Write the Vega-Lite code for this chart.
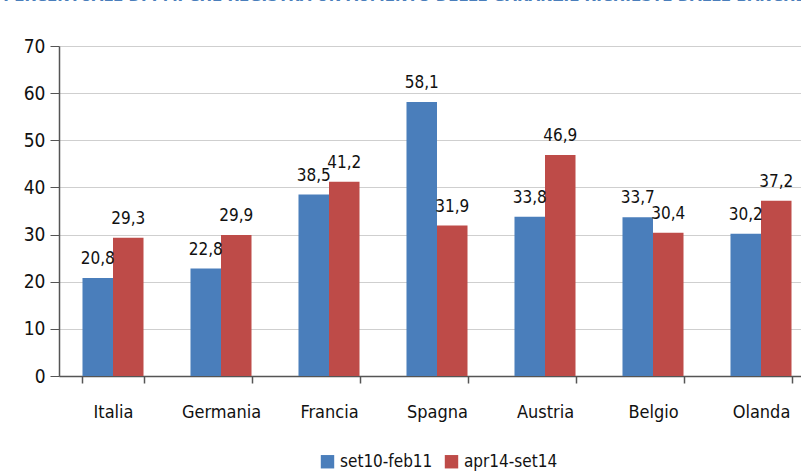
{
  "$schema": "https://vega.github.io/schema/vega-lite/v6.json",
  "width": 742,
  "height": 330,
  "autosize": "none",
  "padding": {"left": 59, "top": 46, "right": 0, "bottom": 96},
  "background": "white",
  "title": {
    "text": "PERCENTUALE DI PMI CHE REGISTRA UN AUMENTO DELLE GARANZIE RICHIESTE DALLE BANCHE",
    "anchor": "start",
    "dx": -20,
    "dy": -29,
    "fontSize": 15,
    "fontWeight": "bold",
    "color": "#4a7ebb",
    "font": "DejaVu Sans"
  },
  "config": {
    "locale": {"number": {"decimal": ",", "thousands": ".", "grouping": [3], "currency": ["", " €"]}},
    "view": {"stroke": null},
    "font": "DejaVu Sans Condensed"
  },
  "data": {
    "values": [
      {"paese": "Italia", "periodo": "set10-feb11", "valore": 20.8},
      {"paese": "Italia", "periodo": "apr14-set14", "valore": 29.3},
      {"paese": "Germania", "periodo": "set10-feb11", "valore": 22.8},
      {"paese": "Germania", "periodo": "apr14-set14", "valore": 29.9},
      {"paese": "Francia", "periodo": "set10-feb11", "valore": 38.5},
      {"paese": "Francia", "periodo": "apr14-set14", "valore": 41.2},
      {"paese": "Spagna", "periodo": "set10-feb11", "valore": 58.1},
      {"paese": "Spagna", "periodo": "apr14-set14", "valore": 31.9},
      {"paese": "Austria", "periodo": "set10-feb11", "valore": 33.8},
      {"paese": "Austria", "periodo": "apr14-set14", "valore": 46.9},
      {"paese": "Belgio", "periodo": "set10-feb11", "valore": 33.7},
      {"paese": "Belgio", "periodo": "apr14-set14", "valore": 30.4},
      {"paese": "Olanda", "periodo": "set10-feb11", "valore": 30.2},
      {"paese": "Olanda", "periodo": "apr14-set14", "valore": 37.2}
    ]
  },
  "encoding": {
    "x": {
      "field": "paese",
      "type": "nominal",
      "sort": null,
      "scale": {"range": [0, 756], "paddingInner": 0.435, "paddingOuter": 0.2175},
      "axis": {
        "title": null,
        "labelAngle": 0,
        "labelFontSize": 18,
        "labelColor": "#111",
        "labelPadding": 20,
        "tickBand": "extent",
        "tickSize": 7,
        "tickColor": "#555",
        "domainColor": "#555",
        "domainWidth": 1.5,
        "tickWidth": 1.5
      }
    },
    "xOffset": {"field": "periodo", "type": "nominal", "sort": ["set10-feb11", "apr14-set14"]},
    "y": {
      "field": "valore",
      "type": "quantitative",
      "scale": {"domain": [0, 70]},
      "axis": {
        "title": null,
        "values": [0, 10, 20, 30, 40, 50, 60, 70],
        "labelOverlap": false,
        "labelFontSize": 19,
        "labelColor": "#111",
        "labelPadding": 5,
        "tickSize": 9,
        "tickColor": "#555",
        "domainColor": "#555",
        "domainWidth": 1.5,
        "gridColor": "#cfcfcf",
        "gridWidth": 1.2
      }
    }
  },
  "layer": [
    {
      "mark": {"type": "bar"},
      "encoding": {
        "color": {
          "field": "periodo",
          "type": "nominal",
          "sort": ["set10-feb11", "apr14-set14"],
          "scale": {"domain": ["set10-feb11", "apr14-set14"], "range": ["#4a7ebb", "#be4b48"]},
          "legend": {
            "title": null,
            "orient": "none",
            "legendX": 260,
            "legendY": 407,
            "direction": "horizontal",
            "symbolType": "square",
            "symbolSize": 180,
            "symbolStrokeWidth": 0,
            "labelFontSize": 17,
            "labelColor": "#111",
            "labelOffset": 4,
            "columnPadding": 10
          }
        }
      }
    },
    {
      "mark": {"type": "text", "baseline": "alphabetic", "dy": -14, "fontSize": 17, "color": "#111"},
      "encoding": {
        "text": {"field": "valore", "type": "quantitative", "format": ".1f"}
      }
    }
  ]
}
